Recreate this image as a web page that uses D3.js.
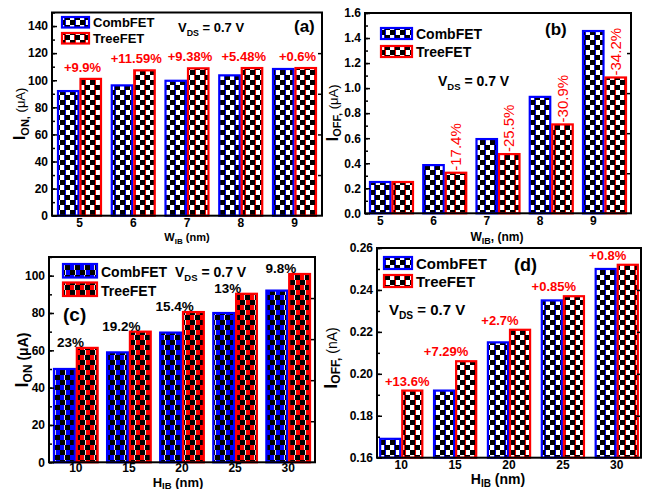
<!DOCTYPE html>
<html>
<head>
<meta charset="utf-8">
<script src="https://cdnjs.cloudflare.com/ajax/libs/d3/7.8.5/d3.min.js"></script>
<style>
  body { margin: 0; background: #fff; }
  svg { display: block; }
  text { font-family: "Liberation Sans", Arial, sans-serif; }
</style>
</head>
<body>
<div class="chart"></div>
<script>
var wibCats = ["5", "6", "7", "8", "9"],
    hibCats = ["10", "15", "20", "25", "30"];

// (a) ION vs WIB
var ionWComb = [92, 96.2, 99.6, 103.6, 108.3],
    ionWTree = [101, 107.3, 108.8, 109, 109],
    ionWPct = ["+9.9%", "+11.59%", "+9.38%", "+5.48%", "+0.6%"],
    ionWTicks = [0, 20, 40, 60, 80, 100, 120, 140];

// (b) IOFF vs WIB
var ioffWComb = [0.25, 0.385, 0.593, 0.93, 1.456],
    ioffWTree = [0.25, 0.324, 0.473, 0.71, 1.085],
    ioffWPct = ["", "-17.4%", "-25.5%", "-30.9%", "-34.2%"],
    ioffWTicks = [0, 0.2, 0.4, 0.6, 0.8, 1.0, 1.2, 1.4, 1.6];

// (c) ION vs HIB
var ionHComb = [50, 58.9, 69.5, 80, 92],
    ionHTree = [61.3, 70, 80.5, 90.3, 100.9],
    ionHPct = ["23%", "19.2%", "15.4%", "13%", "9.8%"],
    ionHTicks = [0, 20, 40, 60, 80, 100];

// (d) IOFF vs HIB
var ioffHComb = [0.169, 0.192, 0.215, 0.235, 0.25],
    ioffHTree = [0.192, 0.206, 0.221, 0.237, 0.252],
    ioffHPct = ["+13.6%", "+7.29%", "+2.7%", "+0.85%", "+0.8%"],
    ioffHTicks = [0.16, 0.18, 0.20, 0.22, 0.24, 0.26];

var BLUE = "#0000ff", RED = "#ff0000";

var svg = d3.select(".chart").append("svg")
    .attr("width", 656)
    .attr("height", 489);

var defs = svg.append("defs");

// checker pattern: white (or coloured) background with black squares
function makePattern(id, bg, edge, cell) {
    var t = cell * 2;
    var p = defs.append("pattern")
        .attr("id", id)
        .attr("patternUnits", "userSpaceOnUse")
        .attr("width", t).attr("height", t);
    p.append("rect").attr("width", t).attr("height", t).attr("fill", bg);
    p.append("rect").attr("x", 0).attr("y", 0).attr("width", cell).attr("height", cell).attr("fill", "#000");
    p.append("rect").attr("x", cell).attr("y", cell).attr("width", cell).attr("height", cell).attr("fill", "#000");
    p.append("rect").attr("x", cell).attr("y", 0).attr("width", 1).attr("height", cell).attr("fill", edge);
    p.append("rect").attr("x", cell - 1).attr("y", cell).attr("width", 1).attr("height", cell).attr("fill", edge);
}
makePattern("chkBlue", "#fff", BLUE, 5);
makePattern("chkRed", "#fff", RED, 5);
makePattern("fillBlue", BLUE, "#ddd", 5);
makePattern("fillRed", RED, "#ddd", 5);

function subText(g, x, y, parts, anchor) {
    var t = g.append("text").attr("x", x).attr("y", y)
        .attr("text-anchor", anchor || "start").attr("fill", "#000");
    parts.forEach(function(pt) {
        t.append("tspan")
            .attr("font-size", pt.size)
            .attr("font-weight", pt.weight || "bold")
            .attr("dy", pt.dy || 0)
            .text(pt.t);
    });
    return t;
}

function vds(g, x, y, size) {
    subText(g, x, y, [
        {t: "V", size: size},
        {t: "DS", size: size * 0.68, dy: 4},
        {t: " = 0.7 V", size: size, dy: -4}
    ]);
}

function legend(g, x, y, w, h, gap, size, pats) {
    var names = ["CombFET", "TreeFET"], cols = [BLUE, RED];
    names.forEach(function(n, i) {
        g.append("rect")
            .attr("x", x).attr("y", y + i * gap)
            .attr("width", w).attr("height", h)
            .attr("fill", "url(#" + pats[i] + ")")
            .attr("stroke", cols[i]).attr("stroke-width", 2.2);
        g.append("text")
            .attr("x", x + w + 4).attr("y", y + i * gap + h - 0.5)
            .attr("font-size", size).attr("font-weight", "bold")
            .text(n);
    });
}

function drawPanel(p) {
    var g = svg.append("g");
    var x = d3.scaleBand().domain(p.cats)
        .range([p.left, p.right])
        .paddingInner(p.pi).paddingOuter(p.po);
    var y = d3.scaleLinear().domain(p.yDomain).range([p.bottom, p.top]);
    var bw = x.bandwidth() / 2;
    var base = y(p.yDomain[0]);

    var series = [
        {vals: p.comb, col: BLUE, pat: p.pats[0], off: 0},
        {vals: p.tree, col: RED, pat: p.pats[1], off: bw}
    ];
    series.forEach(function(s) {
        g.selectAll(null).data(p.cats).enter().append("rect")
            .attr("x", function(d) { return x(d) + s.off + 1; })
            .attr("y", function(d, i) { return y(s.vals[i]); })
            .attr("width", bw - 2)
            .attr("height", function(d, i) { return base - y(s.vals[i]); })
            .attr("fill", "url(#" + s.pat + ")")
            .attr("stroke", s.col)
            .attr("stroke-width", 2.2);
    });

    // percentage labels
    p.cats.forEach(function(c, i) {
        if (!p.pct[i]) return;
        var pos = p.labelPos(x(c), bw, y(p.comb[i]), y(p.tree[i]));
        var t = g.append("text")
            .attr("font-size", p.pctSize)
            .attr("font-weight", p.pctWeight)
            .attr("fill", p.pctColor)
            .text(p.pct[i]);
        if (p.pctRotate) {
            t.attr("transform", "translate(" + pos[0] + "," + pos[1] + ") rotate(-90)")
                .attr("text-anchor", "start");
        } else {
            t.attr("x", pos[0]).attr("y", pos[1]).attr("text-anchor", "middle");
            // keep the label inside the frame
            var half = t.node().getComputedTextLength() / 2;
            if (pos[0] - half < p.left + 8) t.attr("x", p.left + 8 + half);
        }
    });

    // left axis with inward ticks
    var yAx = g.append("g").attr("transform", "translate(" + p.left + ",0)")
        .call(d3.axisLeft(y).tickValues(p.ticks).tickSize(-5).tickPadding(4).tickFormat(p.fmt));
    g.append("g").attr("transform", "translate(" + p.left + ",0)")
        .call(d3.axisLeft(y).tickValues(p.minor).tickSize(-3).tickFormat(""))
        .select(".domain").remove();
    yAx.select(".domain").remove();
    yAx.selectAll("text").attr("font-size", 12).attr("font-weight", "bold")
        .attr("font-family", "Liberation Sans, Arial, sans-serif");
    g.selectAll(".tick line").attr("stroke", "#000").attr("stroke-width", 1.5);

    // right frame ticks
    var yr = d3.scaleLinear().domain([0, 1]).range([p.bottom, p.top]);
    var rAx = g.append("g").attr("transform", "translate(" + p.right + ",0)")
        .call(d3.axisRight(yr).tickValues([0.2, 0.4, 0.6, 0.8]).tickSize(-4).tickFormat(""));
    rAx.select(".domain").remove();
    rAx.selectAll("line").attr("stroke-width", 1.5);

    // bottom axis
    var xAx = g.append("g").attr("transform", "translate(0," + p.bottom + ")")
        .call(d3.axisBottom(x).tickSize(0).tickPadding(p.xPad));
    xAx.select(".domain").remove();
    xAx.selectAll("text").attr("font-size", 12).attr("font-weight", "bold")
        .attr("font-family", "Liberation Sans, Arial, sans-serif")
        .attr("dx", p.tickShift(bw));

    // frame
    g.append("rect")
        .attr("x", p.left).attr("y", p.top)
        .attr("width", p.right - p.left).attr("height", p.bottom - p.top)
        .attr("fill", "none").attr("stroke", "#000").attr("stroke-width", 2);

    // axis titles
    var yl = subText(g, 0, 0, p.yLabel, "middle");
    yl.attr("transform", "translate(" + p.yLabelPos[0] + "," + p.yLabelPos[1] + ") rotate(-90)");
    subText(g, p.xLabelPos[0], p.xLabelPos[1], p.xLabel, "middle");

    g.append("text").attr("x", p.tag[0]).attr("y", p.tag[1])
        .attr("font-size", p.tag[2]).attr("font-weight", "bold").text(p.tag[3]);

    return g;
}

var minorOf = function(lo, hi, step) { return d3.range(lo, hi + step / 2, step); };

// (a)
var ga = drawPanel({
    cats: wibCats, comb: ionWComb, tree: ionWTree, pct: ionWPct,
    left: 52, right: 322, top: 12.5, bottom: 215.7, pi: 0.163, po: 0.093,
    yDomain: [0, 150], ticks: ionWTicks, minor: minorOf(0, 150, 10), fmt: d3.format("d"),
    pats: ["chkBlue", "chkRed"],
    pctSize: 13, pctWeight: "bold", pctColor: RED, pctRotate: false,
    labelPos: function(x0, bw, yc, yt) { return [x0 + bw + 3, yt - 7]; },
    tickShift: function() { return 0; }, xPad: 3,
    yLabel: [{t: "I", size: 17}, {t: "ON,", size: 11, dy: 4}, {t: " (\u03bcA)", size: 13, weight: "normal", dy: -4}],
    yLabelPos: [25, 114],
    xLabel: [{t: "W", size: 11}, {t: "IB", size: 8, dy: 3}, {t: " (nm)", size: 11, dy: -3}],
    xLabelPos: [187, 241],
    tag: [294, 32, 17, "(a)"]
});
legend(ga, 62, 17, 27, 10.5, 16, 13, ["chkBlue", "chkRed"]);
vds(ga, 178, 32, 13);

// (b)
var gb = drawPanel({
    cats: wibCats, comb: ioffWComb, tree: ioffWTree, pct: ioffWPct,
    left: 365, right: 631, top: 13, bottom: 213.3, pi: 0.155, po: 0.075,
    yDomain: [0, 1.6], ticks: ioffWTicks, minor: minorOf(0, 1.6, 0.1), fmt: d3.format(".1f"),
    pats: ["chkBlue", "chkRed"],
    pctSize: 15, pctWeight: "normal", pctColor: RED, pctRotate: true,
    labelPos: function(x0, bw, yc, yt) { return [x0 + bw * 1.5 + 5, yt - 2]; },
    tickShift: function(bw) { return -bw / 2; }, xPad: 3,
    yLabel: [{t: "I", size: 17}, {t: "OFF,", size: 11, dy: 3}, {t: " (\u03bcA)", size: 13, weight: "normal", dy: -3}],
    yLabelPos: [338, 113],
    xLabel: [{t: "W", size: 12}, {t: "IB", size: 9, dy: 3}, {t: ", (nm)", size: 12, dy: -3}],
    xLabelPos: [497, 241],
    tag: [545, 35, 17, "(b)"]
});
legend(gb, 381, 28, 31, 11, 18, 14, ["chkBlue", "chkRed"]);
vds(gb, 438, 86, 14);

// (c)
var gc = drawPanel({
    cats: hibCats, comb: ionHComb, tree: ionHTree, pct: ionHPct,
    left: 49, right: 315, top: 257, bottom: 462.3, pi: 0.14, po: 0.075,
    yDomain: [0, 110], ticks: ionHTicks, minor: minorOf(0, 110, 10), fmt: d3.format("d"),
    pats: ["fillBlue", "fillRed"],
    pctSize: 13.5, pctWeight: "bold", pctColor: "#000", pctRotate: false,
    labelPos: function(x0, bw, yc, yt) { return [x0 + bw / 2 + 4, yt - 1]; },
    tickShift: function() { return 0; }, xPad: 1,
    yLabel: [{t: "I", size: 18}, {t: "ON", size: 12, dy: 4}, {t: " (\u03bcA)", size: 14, dy: -4}],
    yLabelPos: [28, 360],
    xLabel: [{t: "H", size: 13}, {t: "IB", size: 9.5, dy: 1.5}, {t: " (nm)", size: 13, dy: -1.5}],
    xLabelPos: [178, 487],
    tag: [63, 321, 19, "(c)"]
});
legend(gc, 63, 264, 34, 13.5, 18.5, 14, ["fillBlue", "fillRed"]);
vds(gc, 175, 277, 14);

// (d)
var gd = drawPanel({
    cats: hibCats, comb: ioffHComb, tree: ioffHTree, pct: ioffHPct,
    left: 377, right: 641, top: 248, bottom: 457.7, pi: 0.18, po: 0.04,
    yDomain: [0.16, 0.26], ticks: ioffHTicks, minor: minorOf(0.16, 0.26, 0.01), fmt: d3.format(".2f"),
    pats: ["chkBlue", "chkRed"],
    pctSize: 13, pctWeight: "bold", pctColor: RED, pctRotate: false,
    labelPos: function(x0, bw, yc, yt) { return [x0 + bw / 2 + 2, yt - 5]; },
    tickShift: function() { return 0; }, xPad: 3,
    yLabel: [{t: "I", size: 18}, {t: "OFF,", size: 12, dy: 3}, {t: " (nA)", size: 14, weight: "normal", dy: -3}],
    yLabelPos: [337, 358],
    xLabel: [{t: "H", size: 14}, {t: "IB", size: 10, dy: 3}, {t: " (nm)", size: 14, dy: -3}],
    xLabelPos: [498, 484],
    tag: [514, 271, 18, "(d)"]
});
legend(gd, 384, 257, 28, 12, 18, 15, ["chkBlue", "chkRed"]);
vds(gd, 389, 315, 15);
</script>
</body>
</html>
